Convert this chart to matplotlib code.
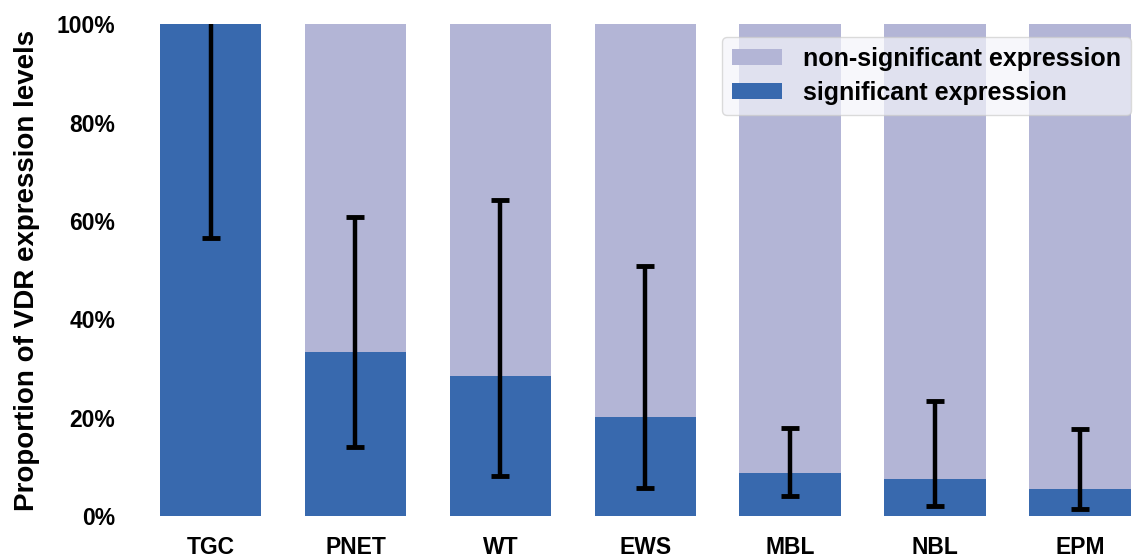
import numpy as np
import matplotlib
matplotlib.use('Agg')
from matplotlib import pyplot as plt
from matplotlib.ticker import PercentFormatter

# tumour types and proportion (%) of samples with significant VDR expression
tumours = ['TGC', 'PNET', 'WT', 'EWS', 'MBL', 'NBL', 'EPM']
significant = [100.0, 33.3, 28.5, 20.1, 8.9, 7.5, 5.5]
# confidence interval limits (%)
ci_low = [56.5, 14.0, 8.1, 5.7, 4.1, 2.0, 1.4]
ci_high = [102.0, 60.9, 64.2, 50.9, 17.9, 23.4, 17.7]

light = '#B3B5D6'
dark = '#3869AE'

plt.rcParams['font.family'] = ['Liberation Sans', 'DejaVu Sans']
plt.rcParams['font.weight'] = 'bold'

fig, ax = plt.subplots(figsize=(11.34, 5.6), dpi=100)
fig.subplots_adjust(left=0.141, right=0.997, top=0.957, bottom=0.078)

x = np.arange(len(tumours))
sig = np.array(significant)
nonsig = 100 - sig
ax.bar(x, nonsig, 0.7, bottom=sig, color=light, label='non-significant expression')
ax.bar(x, sig, 0.7, color=dark, label='significant expression')

yerr = [sig - np.array(ci_low), np.array(ci_high) - sig]
ax.errorbar(x, sig, yerr=yerr, fmt='none', ecolor='black', elinewidth=3.2,
            capsize=6.5, capthick=3.5)

ax.set_xlim(-0.35, 6.35)
ax.set_ylim(0, 100)
ax.set_yticks([0, 20, 40, 60, 80, 100])
ax.yaxis.set_major_formatter(PercentFormatter(decimals=0))
ax.set_xticks(x)
ax.set_xticklabels(tumours)
ax.tick_params(axis='both', length=0, labelsize=16.5, pad=14)
ax.tick_params(axis='y', pad=32)
for s in ax.spines.values():
    s.set_visible(False)
ax.set_ylabel('Proportion of VDR expression levels', fontsize=20, fontweight='bold', labelpad=12)

leg = ax.legend(loc='upper left', fontsize=18, frameon=True, framealpha=0.7,
                facecolor='#F4F5FA', edgecolor='#CCCCCC', bbox_to_anchor=(0.579, 0.974),
                handlelength=2.0, handleheight=0.65, borderpad=0.4, labelspacing=0.4,
                handletextpad=0.85, borderaxespad=0)
leg.get_frame().set_linewidth(1)

plt.savefig('out.png', dpi=100)
